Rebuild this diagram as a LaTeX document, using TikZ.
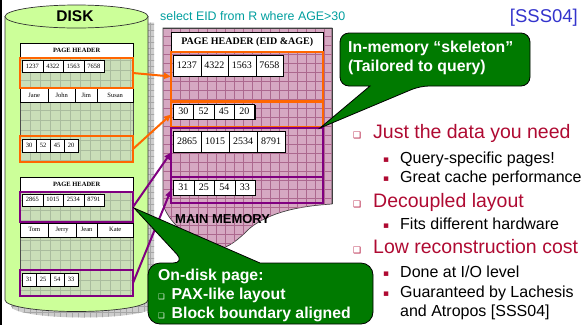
\documentclass[tikz,border=0pt]{standalone}
\usepackage{fontspec}
\setmainfont{Liberation Sans}
\newfontfamily\serifcells{Liberation Serif}
\newfontfamily\symbolfont{DejaVu Sans}
\usetikzlibrary{calc,positioning,arrows.meta,shadows}

\definecolor{diskbody}{RGB}{204,255,153}
\definecolor{pagefill}{RGB}{202,222,184}
\definecolor{pagegrid}{RGB}{170,188,158}
\definecolor{memfill}{RGB}{214,168,194}
\definecolor{memgrid}{RGB}{172,104,142}
\definecolor{shadowgray}{RGB}{205,205,205}
\definecolor{paxorange}{RGB}{255,102,0}
\definecolor{paxpurple}{RGB}{128,0,128}
\definecolor{callgreen}{RGB}{0,122,0}
\definecolor{pointred}{RGB}{175,10,50}
\definecolor{querycyan}{RGB}{0,158,158}
\definecolor{citeblue}{RGB}{51,51,204}

\newcommand\qbullet{{\symbolfont\fontsize{9}{9}\selectfont ❑}}
\newcommand\qbulletsmall{{\symbolfont\fontsize{7.5}{8}\selectfont ❑}}
\newcommand\sbullet{{\symbolfont\fontsize{9}{9}\selectfont\raisebox{1pt}{▪}}}

\begin{document}
\begin{tikzpicture}[
  x=1pt, y=-1pt,
  cell/.style={
    draw=black, line width=0.4pt, fill=white, inner sep=0pt,
    anchor=north west,
    drop shadow={shadow xshift=1.2pt, shadow yshift=-1.2pt, opacity=1, fill=black}
  },
  dcell/.style={cell, minimum height=12pt, font=\serifcells\fontsize{6.5}{7}\selectfont},
  mcell/.style={cell, font=\serifcells\fontsize{10}{11}\selectfont},
  dhead/.style={
    draw=black, line width=0.5pt, fill=white, inner sep=0pt, anchor=north west,
    minimum width=113pt, minimum height=14pt,
    font=\serifcells\bfseries\fontsize{6.5}{7}\selectfont
  },
  mhead/.style={
    draw=black, line width=0.5pt, fill=white, inner sep=0pt, anchor=north west,
    minimum width=152pt, minimum height=20pt,
    font=\serifcells\bfseries\fontsize{10}{11}\selectfont
  },
  colbox/.style={line width=2.4pt, inner sep=0pt, outer sep=0pt, anchor=north west},
  obox/.style={colbox, draw=paxorange},
  pbox/.style={colbox, draw=paxpurple},
  oarrow/.style={paxorange, line width=2pt, -{Triangle[length=7pt,width=6pt]}},
  parrow/.style={paxpurple, line width=2pt, -{Triangle[length=7pt,width=6pt]}},
  callout/.style={fill=callgreen, draw=black, line width=0.8pt},
  calltext/.style={text=white, font=\bfseries\fontsize{15.8}{19}\selectfont, align=left, inner sep=0pt},
  point/.style={text=pointred, font=\fontsize{19.5}{22}\selectfont, inner sep=0pt, anchor=base west},
  subpoint/.style={text=black, font=\fontsize{16}{18}\selectfont, inner sep=0pt, anchor=base west}
]
  \useasboundingbox (0,0) rectangle (586,325);

  % slide edge
  \draw[line width=1.6pt] (1,0) -- (1,325);

  % ---------------- disk cylinder ----------------
  \begin{scope}[shift={(6,6)}]
    \fill[shadowgray] (5,16.5) -- (5,300) arc[start angle=180, end angle=0, x radius=71.5, y radius=11.5] -- (148,16.5) -- cycle;
    \clip (5,16.5) -- (5,300) arc[start angle=180, end angle=0, x radius=71.5, y radius=11.5] -- (148,16.5) -- cycle;
    \draw[gray!70, line width=0.4pt] (0,0) grid[step=6pt] (160,320);
  \end{scope}
  \filldraw[fill=diskbody, draw=black!80, line width=0.7pt]
    (5,16.5) -- (5,300) arc[start angle=180, end angle=0, x radius=71.5, y radius=11.5] -- (148,16.5) -- cycle;
  \filldraw[fill=diskbody, draw=black!80, line width=0.7pt] (76.5,16.5) ellipse [x radius=71.5, y radius=11.5];
  \node[font=\bfseries\fontsize{15.5}{18}\selectfont, inner sep=0pt, anchor=base] (disk) at (75,21.5) {DISK};

  % disk page bodies
  \foreach \top/\bot in {43/162, 177/296} {
    \fill[pagefill] (20,\top) rectangle (133,\bot);
    \begin{scope}
      \clip (20,\top) rectangle (133,\bot);
      \draw[pagegrid, line width=0.4pt] (0,0) grid[step=10pt] (140,300);
    \end{scope}
    \draw[black!70, line width=0.5pt] (20,\top) rectangle (133,\bot);
  }

  % disk page 1
  \node[dhead] (dHead1) at (20,43) {PAGE HEADER};
  \foreach \v [count=\i from 0] in {1237,4322,1563,7658}
    \node[dcell, minimum width=20.5pt] (dEid\i) at ({22+20.5*\i},60) {\v};
  \foreach \x/\w/\n in {20/28/Jane,48/27/John,75/22/Jim,97/36/Susan}
    \node[dcell, minimum width=\w pt, minimum height=14pt] (dName\n) at (\x,88) {\n};
  \foreach \v [count=\i from 0] in {30,52,45,20}
    \node[dcell, minimum width=14pt, minimum height=13pt] (dAge\i) at ({22+14*\i},138.5) {\v};
  \node[obox, minimum width=113pt, minimum height=30pt] (dEidA) at (20,58) {};
  \node[obox, minimum width=113pt, minimum height=26pt] (dAgeA) at (20,136) {};

  % disk page 2
  \node[dhead] (dHead2) at (20,177) {PAGE HEADER};
  \foreach \v [count=\i from 0] in {2865,1015,2534,8791}
    \node[dcell, minimum width=20.5pt] (dEidB\i) at ({22+20.5*\i},193.5) {\v};
  \foreach \x/\w/\n in {20/28/Tom,48/28/Jerry,76/21/Jean,97/36/Kate}
    \node[dcell, minimum width=\w pt, minimum height=14pt] (dName\n) at (\x,222.5) {\n};
  \foreach \v [count=\i from 0] in {31,25,54,33}
    \node[dcell, minimum width=14pt, minimum height=13pt] (dAgeB\i) at ({22+14*\i},272.5) {\v};
  \node[pbox, minimum width=113pt, minimum height=30pt] (dEidB) at (20,192) {};
  \node[pbox, minimum width=113pt, minimum height=26pt] (dAgeB) at (20,270) {};

  % ---------------- main memory ----------------
  \filldraw[fill=memfill, draw=black!75, line width=0.7pt]
    (163,28) -- (332,28) -- (332,204)
    .. controls (300,206) and (270,212) .. (250,228)
    .. controls (238,240) and (228,248) .. (218,249)
    .. controls (195,245) and (170,225) .. (163,205) -- cycle;
  \begin{scope}
    \clip (163,28) -- (332,28) -- (332,204)
      .. controls (300,206) and (270,212) .. (250,228)
      .. controls (238,240) and (228,248) .. (218,249)
      .. controls (195,245) and (170,225) .. (163,205) -- cycle;
    \draw[memgrid, line width=0.4pt] (160,20) grid[step=9pt] (340,260);
  \end{scope}
  \draw[black!75, line width=0.7pt] (163,28) -- (332,28) -- (332,204);
  \node[font=\bfseries\fontsize{13}{15}\selectfont, inner sep=0pt, anchor=base west] (mainmem) at (175,223) {MAIN MEMORY};

  \node[mhead] (mHead) at (171,32) {PAGE HEADER (EID \&AGE)};
  \foreach \v [count=\i from 0] in {1237,4322,1563,7658}
    \node[mcell, minimum width=27.5pt, minimum height=21pt] (mEid\i) at ({173+27.5*\i},54.5) {\v};
  \foreach \v [count=\i from 0] in {30,52,45,20}
    \node[mcell, minimum width=20.3pt, minimum height=15pt] (mAge\i) at ({173+20.3*\i},104) {\v};
  \foreach \v [count=\i from 0] in {2865,1015,2534,8791}
    \node[mcell, minimum width=28pt, minimum height=21pt] (mEidB\i) at ({173+28*\i},130.5) {\v};
  \foreach \v [count=\i from 0] in {31,25,54,33}
    \node[mcell, minimum width=20.5pt, minimum height=15pt] (mAgeB\i) at ({173+20.5*\i},179.5) {\v};
  \node[obox, minimum width=152pt, minimum height=49pt] (mEidA) at (171,52) {};
  \node[obox, minimum width=152pt, minimum height=25pt] (mAgeA) at (171,102) {};
  \node[pbox, minimum width=152pt, minimum height=49pt] (mEidB) at (171,128) {};
  \node[pbox, minimum width=152pt, minimum height=26pt] (mAgeB) at (171,177) {};

  % column groups copied from disk into memory
  \draw[oarrow] (dEidA.east) -- (mEidA.west);
  \draw[oarrow] (dAgeA.east) -- (mAgeA.west);
  \draw[parrow] (dEidB.east) -- (mEidB.west);
  \draw[parrow] (dAgeB.east) -- (mAgeB.west);

  % ---------------- callouts ----------------
  \path[callout] (435,33) [rounded corners=9pt] -- (530,33) -- (530,86) -- (420,86)
    [sharp corners] -- (320,128) -- (370,86) [rounded corners=9pt] -- (340,86) -- (340,33) -- cycle;
  \node[calltext, anchor=north west] (skeleton) at (348,40.5) {In-memory “skeleton”\\(Tailored to query)};

  \path[callout] (260,324) [rounded corners=12pt] -- (148,324) -- (148,263) -- (185,263)
    [sharp corners] -- (134,208) -- (260,263) [rounded corners=12pt] -- (373,263) -- (373,324) -- cycle;
  \node[calltext, anchor=north west] (ondisk) at (158,268.5)
    {On-disk page:\\\makebox[13.5pt][l]{\qbulletsmall}PAX-like layout\\\makebox[13.5pt][l]{\qbulletsmall}Block boundary aligned};

  % ---------------- header texts ----------------
  \node[text=querycyan, font=\fontsize{12.4}{14}\selectfont, anchor=base west, inner sep=0pt] (query) at (160,20.5) {select EID from R where AGE>30};
  \node[text=citeblue, font=\fontsize{18.5}{20}\selectfont, anchor=base east, inner sep=0pt] (cite) at (578,22) {[SSS04]};

  % ---------------- bullet list ----------------
  \node[point] (p1) at (353,138) {\makebox[20pt][l]{\qbullet}Just the data you need};
  \node[subpoint] (s1) at (383,163) {\makebox[17pt][l]{\color{pointred}\sbullet}Query-specific pages!};
  \node[subpoint] (s2) at (383,182) {\makebox[17pt][l]{\color{pointred}\sbullet}Great cache performance};
  \node[point] (p2) at (353,207) {\makebox[20pt][l]{\qbullet}Decoupled layout};
  \node[subpoint] (s3) at (383,229) {\makebox[17pt][l]{\color{pointred}\sbullet}Fits different hardware};
  \node[point] (p3) at (353,253) {\makebox[20pt][l]{\qbullet}Low reconstruction cost};
  \node[subpoint] (s4) at (383,277) {\makebox[17pt][l]{\color{pointred}\sbullet}Done at I/O level};
  \node[subpoint] (s5) at (383,297) {\makebox[17pt][l]{\color{pointred}\sbullet}Guaranteed by Lachesis};
  \node[subpoint] (s5b) at (400,316) {and Atropos [SSS04]};

\end{tikzpicture}
\end{document}
